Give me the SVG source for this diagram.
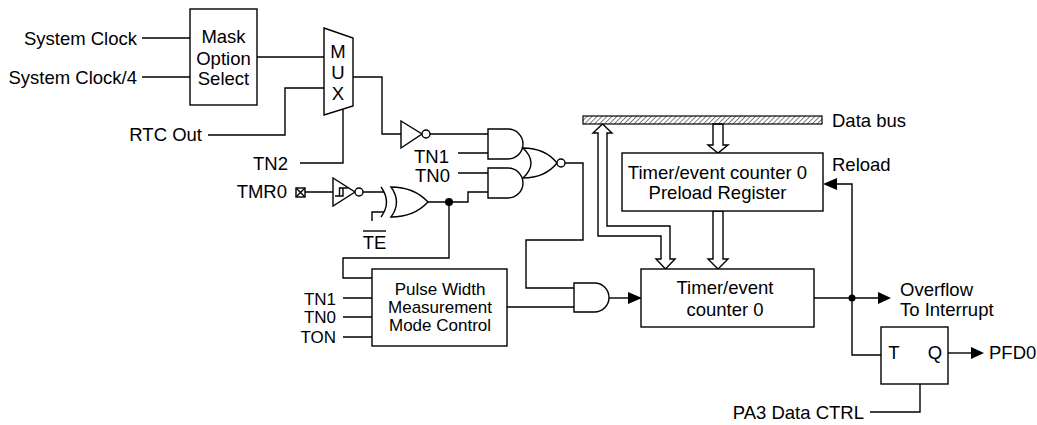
<svg xmlns="http://www.w3.org/2000/svg" width="1037" height="425" viewBox="0 0 1037 425">
<style>
text{font-family:"Liberation Sans",Arial,sans-serif;font-size:18.5px;fill:#000}
.e{text-anchor:end}.m{text-anchor:middle}
.p{font-size:17px}
.w{fill:none;stroke:#000;stroke-width:1.4}
.b{fill:#fff;stroke:#000;stroke-width:1.4}
.a{fill:#000;stroke:none}
</style>
<defs>
<pattern id="hatch" width="3.5" height="3.5" patternUnits="userSpaceOnUse" patternTransform="rotate(45)"><line x1="0" y1="0" x2="0" y2="3.5" stroke="#000" stroke-width="1"/></pattern>
</defs>
<g id="connectors">
<path class="w" d="M142,38H190M142,77H190M257,57H324"/>
<path class="w" d="M208,135H285V88H324"/>
<path class="w" d="M300,163H343V109"/>
<path class="w" d="M353,77H382V134H401"/>
<path class="w" d="M430,134H488M458,153H488M458,173H488"/>
<path class="w" d="M305,192H333M363,192H384M372,221V212H384"/>
<path class="w" d="M428,202H468V192H488"/>
<path class="w" d="M449,202V258H343V278H372"/>
<path class="w" d="M343,298H372M343,317H372M343,337H372"/>
<path class="w" d="M565,163H583V240H526V288H574M507,307H574"/>
<path class="w" d="M609,298H628"/><polygon class="a" points="628,292 642,298 628,304"/>
<path class="w" d="M814,298H878"/><polygon class="a" points="878,292 891,298 878,304"/>
<path class="w" d="M881,355H852V184H837"/><polygon class="a" points="837,178 823,184 837,190"/>
<circle class="a" cx="852" cy="298" r="3.5"/>
<circle class="a" cx="449" cy="202" r="4"/>
<path class="w" d="M948,353H971"/><polygon class="a" points="971,347 984,353 971,359"/>
<path class="w" d="M870,412H920V384"/>
<path class="b" d="M713,124V145H708L718,153L728,145H723V124Z"/>
<path class="b" d="M713,211V259H708L718,269L728,259H723V211Z"/>
<path class="b" d="M602.5,124L612,133H607V226H670V259H675L665.5,269L656,259H661V236H598V133H593Z"/>
</g>
<g id="inputs">
<text class="e" x="137" y="44.5">System Clock</text>
<text class="e" x="137" y="83.5">System Clock/4</text>
<text class="e" x="202" y="141">RTC Out</text>
<text class="e" x="288" y="169.5">TN2</text>
<text class="e" x="287" y="197.5">TMR0</text>
<rect class="b" x="296" y="188" width="9" height="9"/>
<path class="w" d="M296,188L305,197M305,188L296,197" stroke-width="1"/>
<text class="e" x="449" y="162.5">TN1</text>
<text class="e" x="450" y="181.5">TN0</text>
<text class="m" x="374.5" y="248.5">TE</text>
<path class="w" d="M363,231H386"/>
<text class="e p" x="336" y="304.5">TN1</text>
<text class="e p" x="336" y="323">TN0</text>
<text class="e p" x="336" y="342.5">TON</text>
<text class="e" x="864" y="419">PA3 Data CTRL</text>
</g>
<g id="mask">
<rect class="b" x="190" y="9" width="67" height="96"/>
<text class="m" x="223.5" y="42.5">Mask</text>
<text class="m" x="223.5" y="64.5">Option</text>
<text class="m" x="223.5" y="85">Select</text>
</g>
<g id="mux">
<path class="b" d="M324,28L353,38V106L324,115Z"/>
<text class="m" x="338" y="57.5">M</text>
<text class="m" x="338" y="78.5">U</text>
<text class="m" x="338" y="99.5">X</text>
</g>
<g id="inv1">
<path class="b" d="M401,121L422,134L401,148Z"/>
<circle class="b" cx="426" cy="134" r="4"/>
</g>
<g id="inv2">
<path class="b" d="M333,178L355,192L333,206Z"/>
<circle class="b" cx="359" cy="192" r="4"/>
<path class="w" d="M335,196H343V188H348M339.5,196V188H343" stroke-width="1"/>
</g>
<g id="xor">
<path class="w" d="M381,187Q392,202 381,217"/>
<path class="b" d="M391,187Q414,187 428,202Q414,217 391,217Q402,202 391,187Z"/>
</g>
<g id="and1"><path class="b" d="M488,129H508A15,15 0 0 1 508,159H488Z"/></g>
<g id="and2"><path class="b" d="M488,168H508A15,15 0 0 1 508,198H488Z"/></g>
<g id="nor">
<path class="b" d="M523,148Q545,148 557,163Q545,178 523,178Q539,163 523,148Z"/>
<circle class="b" cx="561" cy="163" r="4"/>
</g>
<g id="and3"><path class="b" d="M574,283H594.5A14.5,14.5 0 0 1 594.5,312H574Z"/></g>
<g id="pwm">
<rect class="b" x="372" y="269" width="135" height="77"/>
<text class="m p" x="440" y="294.5">Pulse Width</text>
<text class="m p" x="440" y="312.5">Measurement</text>
<text class="m p" x="440" y="330.5">Mode Control</text>
</g>
<g id="databus">
<rect x="583" y="116" width="239" height="8" fill="url(#hatch)" stroke="#000" stroke-width="1.2"/>
<text x="832" y="126.5">Data bus</text>
</g>
<g id="preload">
<rect class="b" x="622" y="153" width="201" height="58"/>
<text class="m" x="717.5" y="178.5">Timer/event counter 0</text>
<text class="m" x="717.5" y="199">Preload Register</text>
<text x="832" y="171">Reload</text>
</g>
<g id="counter">
<rect class="b" x="641" y="269" width="173" height="58"/>
<text class="m" x="725" y="293.5">Timer/event</text>
<text class="m" x="725" y="316">counter 0</text>
<text x="900" y="295.5">Overflow</text>
<text x="900" y="316">To Interrupt</text>
</g>
<g id="tff">
<rect class="b" x="881" y="327" width="67" height="57"/>
<text class="m" x="894" y="359">T</text>
<text class="m" x="935" y="359">Q</text>
<text x="989" y="359">PFD0</text>
</g>
</svg>
